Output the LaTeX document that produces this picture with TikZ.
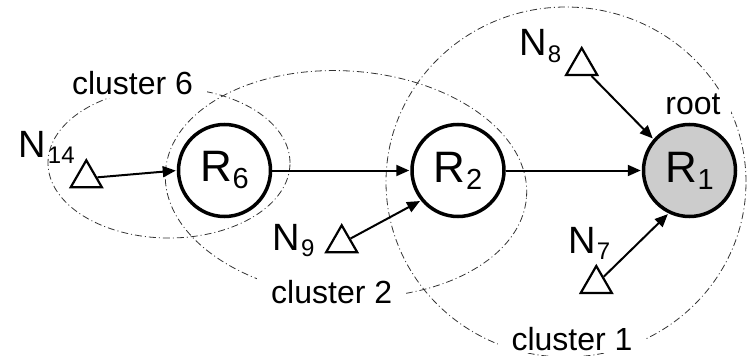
\documentclass[tikz,border=0pt]{standalone}
\usepackage{fontspec}
\setmainfont{Liberation Sans}
\usetikzlibrary{arrows.meta,shapes.geometric}
\tikzset{
 rnode/.style={circle,draw,line width=3.5pt,minimum size=92pt,inner sep=0pt,font=\fontsize{44}{44}\selectfont},
 rootnode/.style={rnode,fill=black!20},
 tri/.style={regular polygon,regular polygon sides=3,draw,line width=2.2pt,minimum size=36pt,inner sep=0pt},
 arr/.style={line width=2pt,-{Triangle[length=13pt,width=11pt]},shorten >=1pt},
 clus/.style={line width=0.8pt,dash pattern=on 7pt off 3pt on 1pt off 3pt,black!80},
 clab/.style={fill=white,inner xsep=14pt,inner ysep=3pt,anchor=base,font=\fontsize{32}{32}\selectfont},
 nlab/.style={inner sep=0pt,anchor=base west,font=\fontsize{38}{38}\selectfont}
}
\newcommand\Rsub[1]{R\kern0.5pt\raisebox{-7pt}{\fontsize{29}{29}\selectfont #1}}
\newcommand\Nsub[1]{N\kern1.5pt\raisebox{-6pt}{\fontsize{24}{24}\selectfont #1}}
\begin{document}
\begin{tikzpicture}[x=1pt,y=-1pt]
\useasboundingbox (0,0) rectangle (748,356);
% cluster ellipses
\draw[clus] (169,163) ellipse [x radius=121pt, y radius=75pt];
\draw[clus,rotate around={-4:(346,184)}] (346,184) ellipse [x radius=181pt, y radius=113pt];
\draw[clus] (566,182) ellipse [x radius=180pt, y radius=175pt];
% cluster labels
\node[clab] (c6) at (132.5,94.5) {cluster 6};
\node[clab] (c2) at (331.7,303) {cluster 2};
\node[clab] (c1) at (572,350) {cluster 1};
\node[clab,inner xsep=10pt] (rt) at (693,114.3) {root};
% routers
\node[rnode] (r6) at (224.5,170.5) {\Rsub{6}};
\node[rnode] (r2) at (458,170.5) {\Rsub{2}};
\node[rootnode] (r1) at (689.5,170.5) {\Rsub{1}};
% nodes
\node[tri] (n14) at (86.3,178.3) {};
\node[tri] (n9) at (341.7,243.3) {};
\node[tri] (n8) at (581.7,66) {};
\node[tri] (n7) at (596.3,284) {};
% node labels
\node[nlab] (l14) at (18.8,157.3) {\Nsub{14}};
\node[nlab] (l9) at (272,250.7) {\Nsub{9}};
\node[nlab] (l8) at (518.8,56) {\Nsub{8}};
\node[nlab] (l7) at (567.8,253) {\Nsub{7}};
% connectors
\draw[arr] (n14) -- (r6.west);
\draw[arr] (r6) -- (r2);
\draw[arr] (r2) -- (r1);
\draw[arr] (n9) -- (r2.219);
\draw[arr] (n8) -- (r1.139);
\draw[arr] (n7) -- (r1.244);
\end{tikzpicture}
\end{document}
